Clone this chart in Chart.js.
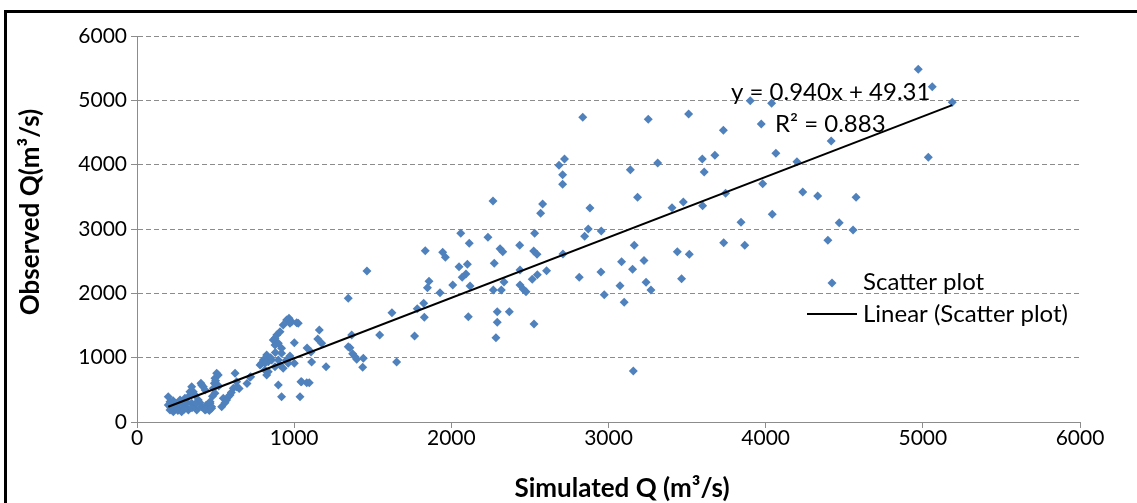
<!DOCTYPE html>
<html>
<head>
<meta charset="utf-8">
<script src="https://cdn.jsdelivr.net/npm/chart.js@4.4.1/dist/chart.umd.min.js"></script>
<style>
  html, body { margin: 0; padding: 0; background: #fff; overflow: hidden; }
  #wrap { position: relative; width: 1137px; height: 503px; }
  #frame { position: absolute; left: 4px; top: 10px; width: 1300px; height: 700px;
           border-left: 3px solid #000; border-top: 3px solid #000; box-sizing: border-box; }
  canvas { position: absolute; left: 0; top: 0; }
</style>
</head>
<body>
<div id="wrap">
  <div id="frame"></div>
  <canvas id="c" width="1137" height="503"></canvas>
</div>
<script>
// ---- data (Simulated Q vs Observed Q, m3/s) ----
const simulatedQ = [
  199,210,221,210,242,274,305,327,369,305,263,348,390,411,380,284,231,199,327,358,337,348,407,422,433,411,
  250,290,320,360,400,440,215,260,300,350,380,230,440,460,465,475,433,465,475,
  507,496,492,486,496,517,624,634,613,719,581,549,539,592,570,723,500,520,560,600,650,700,480,634,
  783,804,825,814,825,793,814,835,857,878,910,930,962,835,899,920,878,867,889,910,878,899,930,952,967,984,
  1026,1016,973,1001,920,920,899,973,1001,1037,1047,1080,1096,1082,1107,1111,1160,1150,1175,1203,850,950,880,1043,
  1344,1344,1355,1372,1387,1398,1440,1436,1366,1544,1463,1652,1622,1766,1783,1824,1828,1834,1848,1858,
  1928,1945,1962,2009,2049,2060,2069,2093,2102,2108,2114,2119,2233,2265,2267,2273,2284,2292,2292,2310,
  2318,2327,2335,2369,2435,2437,2437,2458,2475,2515,2524,2526,2530,2545,2547,2568,2581,2606,2685,2708,
  2708,2710,2720,2814,2836,2848,2871,2882,2952,2954,2973,3073,3083,3100,3139,3153,3158,3164,3185,3226,
  3239,3253,3270,3313,3404,3438,3465,3476,3510,3514,3597,3599,3609,3677,3731,3733,3745,3843,3867,3902,
  3972,3981,4038,4042,4065,4199,4236,4331,4396,4417,4468,4556,4575,4971,5035,5060,5187
];
const observedQ = [
  394,316,238,187,290,342,368,394,420,238,212,290,342,238,187,161,161,264,187,471,471,549,601,549,497,575,
  250,280,300,260,300,260,220,180,200,220,300,330,200,180,316,238,187,290,213,
  757,679,601,524,446,731,757,627,524,695,394,368,238,420,342,705,640,560,300,460,520,600,400,549,
  886,964,1042,808,731,912,912,937,964,860,886,835,912,782,575,394,1197,1275,1352,1404,1300,1223,1508,1586,1612,1559,
  1534,1544,1534,1233,1145,1068,964,1026,912,394,627,611,611,1150,1088,933,1430,1290,1223,860,1000,960,1080,627,
  1923,1170,1155,1062,1015,975,990,850,1352,1352,2347,933,1699,1337,1761,1845,1627,2663,2088,2187,
  2010,2638,2560,2130,2414,2933,2249,2301,2451,1637,2778,2114,2871,3436,2052,2467,1310,1715,1550,2694,
  2052,2647,2176,1715,2747,2363,2130,2063,2026,2218,2658,1523,2933,2607,2290,3244,3389,2352,3990,3695,
  3845,2612,4090,2249,4737,2886,3000,3327,2332,2969,1979,2119,2492,1861,3922,2373,793,2747,3495,2510,
  2172,4705,2052,4026,3331,2647,2228,3420,4788,2606,4088,3362,3886,4145,4534,2787,3555,3104,2747,4995,
  4632,3705,4954,3229,4177,4047,3575,3513,2824,4368,3098,2985,3493,5483,4114,5213,4969
];
const axisTicks = [0, 1000, 2000, 3000, 4000, 5000, 6000];
const trendSlope = 0.940;
const trendIntercept = 49.31;
const equationText = 'y = 0.940x + 49.31';
const r2Text = 'R\u00B2 = 0.883';
const xTitle = 'Simulated Q (m\u00B3/s)';
const yTitle = 'Observed Q(m\u00B3/s)';
const seriesName = 'Scatter plot';
const trendName = 'Linear (Scatter plot)';

// ---- build datasets ----
const points = simulatedQ.map((x, i) => ({ x: x, y: observedQ[i] }));
const xMin = Math.min(...simulatedQ), xMax = Math.max(...simulatedQ);
const trendPts = [xMin, xMax].map(x => ({ x: x, y: trendSlope * x + trendIntercept }));

const BLUE = '#4F81BD';
const GRID = '#8C8C8C';
const FONT = 'Lato';

function diamond(ctx, x, y, r) {
  ctx.beginPath();
  ctx.moveTo(x, y - r); ctx.lineTo(x + r, y); ctx.lineTo(x, y + r); ctx.lineTo(x - r, y);
  ctx.closePath(); ctx.fill();
}

const annot = {
  id: 'annot',
  afterDraw(chart) {
    const ctx = chart.ctx;
    ctx.save();
    ctx.fillStyle = '#000';
    ctx.textBaseline = 'middle';
    ctx.textAlign = 'left';
    ctx.font = '24px ' + FONT;
    ctx.fillText(equationText, 731, 92);
    ctx.fillText(r2Text, 775, 124);
    // legend
    ctx.fillStyle = BLUE;
    diamond(ctx, 832, 283, 4.5);
    ctx.fillStyle = '#000';
    ctx.fillText(seriesName, 863, 282);
    ctx.strokeStyle = '#000'; ctx.lineWidth = 2;
    ctx.beginPath(); ctx.moveTo(807, 314); ctx.lineTo(857, 314); ctx.stroke();
    ctx.fillText(trendName, 863, 314);
    // axis titles
    ctx.font = 'bold 26px ' + FONT;
    ctx.textAlign = 'center';
    ctx.fillText(xTitle, 622, 489);
    ctx.translate(31, 212);
    ctx.rotate(-Math.PI / 2);
    ctx.fillText(yTitle, 0, 0);
    ctx.restore();
  }
};

new Chart(document.getElementById('c'), {
  type: 'scatter',
  data: {
    datasets: [
      { label: trendName, type: 'line', data: trendPts, borderColor: '#000', borderWidth: 2,
        pointRadius: 0, fill: false, order: 0 },
      { label: seriesName, data: points, pointStyle: 'rectRot', pointRadius: 4.5,
        backgroundColor: BLUE, borderColor: BLUE, borderWidth: 0, order: 1 }
    ]
  },
  options: {
    responsive: false,
    animation: false,
    layout: { padding: { top: 36, right: 57, left: 0, bottom: 0 } },
    plugins: { legend: { display: false }, tooltip: { enabled: false } },
    scales: {
      x: {
        type: 'linear', min: axisTicks[0], max: axisTicks[axisTicks.length - 1],
        afterFit: s => { s.height = 81; },
        afterBuildTicks: s => { s.ticks = axisTicks.map(v => ({ value: v })); },
        grid: { drawOnChartArea: false, drawTicks: true, tickLength: 6, tickColor: GRID },
        border: { color: GRID, width: 1 },
        ticks: { color: '#000', font: { family: FONT, size: 21 }, padding: -2, maxRotation: 0,
                 callback: v => String(v) }
      },
      y: {
        type: 'linear', min: axisTicks[0], max: axisTicks[axisTicks.length - 1],
        afterFit: s => { s.width = 137; },
        afterBuildTicks: s => { s.ticks = axisTicks.map(v => ({ value: v })); },
        grid: {
          color: c => (c.tick && c.tick.value === 0) ? 'rgba(0,0,0,0)' : GRID,
          tickColor: GRID, tickLength: 6, lineWidth: 1, tickBorderDash: []
        },
        border: { color: GRID, width: 1, dash: [5, 3] },
        ticks: { color: '#000', font: { family: FONT, size: 21 }, padding: 4,
                 callback: v => String(v) }
      }
    }
  },
  plugins: [annot]
});
</script>
</body>
</html>
